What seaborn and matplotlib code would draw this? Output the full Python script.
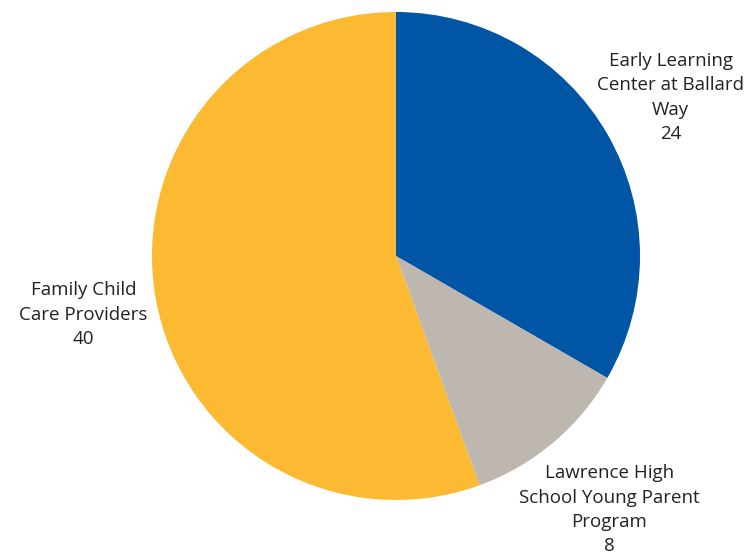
import matplotlib
matplotlib.use("Agg")
import matplotlib.pyplot as plt
import seaborn as sns

categories = ["Early Learning\nCenter at Ballard\nWay", "Lawrence High\nSchool Young Parent\nProgram", "Family Child\nCare Providers"]
values = [24, 8, 40]
colors = ["#0055A5", "#BEB7AF", "#FBBA31"]

sns.set_theme(style="white")
plt.rcParams['font.family'] = ['Open Sans', 'DejaVu Sans']

fig = plt.figure(figsize=(7.52, 5.57), dpi=100)
ax = fig.add_axes([152/752, 57/557, 488/752, 488/557])
labels = [f"{c}\n{v}" for c, v in zip(categories, values)]
wedges, texts = ax.pie(values, labels=labels, colors=colors, startangle=90, counterclock=False,
                       labeldistance=1.3, radius=1.0,
                       wedgeprops=dict(linewidth=0, edgecolor="none"),
                       textprops=dict(fontsize=13.5, color="#222222", linespacing=1.45))
for t in texts:
    t.set_ha("center")
    t.set_va("center")
    t.set_multialignment("center")
x, y = texts[1].get_position()
texts[1].set_position((x * 1.045, y * 1.045))
x, y = texts[2].get_position()
texts[2].set_position((x, y - 0.015))
ax.set_xlim(-1, 1)
ax.set_ylim(-1, 1)
ax.set_aspect("equal")
ax.axis("off")
fig.savefig("out.png", dpi=100)
